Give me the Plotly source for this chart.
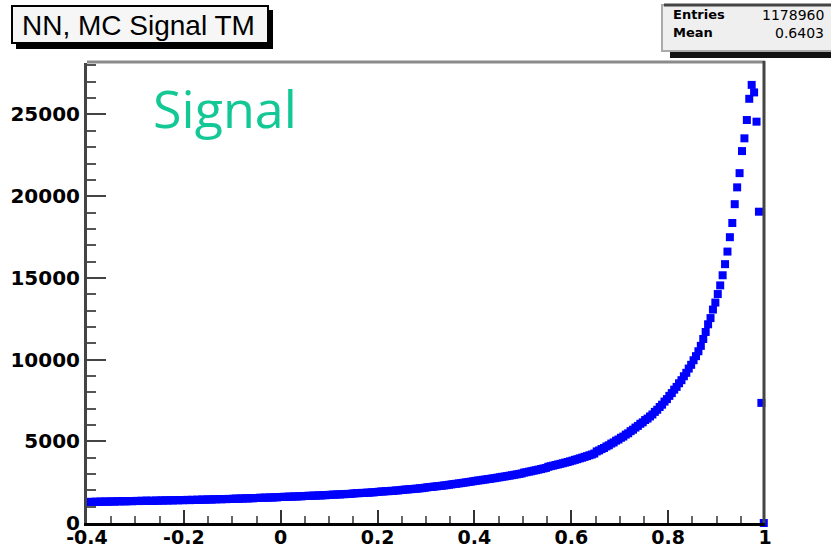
import plotly.graph_objects as go

# ---------------- data ----------------
bin_first_center = -0.3975
bin_width = 0.005

counts_low = [  # -0.40 .. 0.20
    1285, 1298, 1281, 1305, 1294, 1310, 1299, 1318, 1302, 1314,
    1322, 1309, 1331, 1325, 1340, 1318, 1336, 1344, 1329, 1348,
    1355, 1341, 1362, 1350, 1371, 1358, 1366, 1349, 1377, 1368,
    1380, 1371, 1389, 1376, 1394, 1383, 1399, 1388, 1405, 1392,
    1404, 1417, 1398, 1421, 1410, 1429, 1415, 1436, 1422, 1440,
    1445, 1431, 1456, 1449, 1462, 1451, 1470, 1458, 1477, 1468,
    1484, 1497, 1479, 1503, 1495, 1512, 1501, 1520, 1509, 1529,
    1533, 1548, 1539, 1556, 1547, 1565, 1558, 1574, 1566, 1589,
    1594, 1607, 1598, 1617, 1611, 1625, 1620, 1639, 1630, 1648,
    1655, 1668, 1661, 1679, 1672, 1690, 1685, 1701, 1697, 1716,
    1724, 1738, 1733, 1752, 1747, 1765, 1762, 1781, 1778, 1799,
    1812, 1828, 1824, 1843, 1839, 1858, 1856, 1876, 1874, 1897,
]
counts_mid = [  # 0.20 .. 0.65
    1911, 1929, 1927, 1948, 1946, 1968, 1967, 1990, 1991, 2015,
    2032, 2048, 2052, 2071, 2077, 2098, 2104, 2125, 2133, 2158,
    2182, 2201, 2212, 2231, 2245, 2264, 2279, 2300, 2316, 2338,
    2362, 2384, 2400, 2423, 2441, 2465, 2484, 2508, 2529, 2554,
    2578, 2602, 2617, 2644, 2660, 2687, 2703, 2730, 2748, 2776,
    2801, 2826, 2847, 2874, 2897, 2925, 2949, 2977, 3002, 3031,
    3083, 3110, 3142, 3170, 3205, 3234, 3268, 3300, 3337, 3370,
    3440, 3478, 3511, 3550, 3584, 3621, 3657, 3696, 3733, 3775,
    3817, 3866, 3905, 3955, 3996, 4048, 4092, 4145, 4192, 4250,
]
counts_rise = [  # 0.65 .. 0.87
    4380, 4440, 4525, 4590, 4685, 4755, 4860, 4930, 5040, 5110,
    5215, 5290, 5410, 5490, 5620, 5710, 5840, 5940, 6070, 6160,
    6300, 6390, 6520, 6640, 6800, 6930, 7100, 7240, 7430, 7580,
    7780, 7950, 8160, 8330, 8550, 8740, 8980, 9190, 9450, 9680,
    9960, 10210, 10510, 10840,
]
counts_peak = [  # 0.87 .. 1.00
    11260, 11690, 12160, 12540, 13060, 13490, 14010, 14540, 15160, 15840,
    16610, 17490, 18360, 19510, 20540, 21410, 22760, 23540, 24660, 25960,
    26810, 26350, 24560, 19050, 7350, 0,
]
counts = counts_low + counts_mid + counts_rise + counts_peak

x_tickvals = [-0.4, -0.2, 0, 0.2, 0.4, 0.6, 0.8, 1.0]
x_ticktext = ["-0.4", "-0.2", "0", "0.2", "0.4", "0.6", "0.8", "1"]
y_tickvals = [0, 5000, 10000, 15000, 20000, 25000]
y_ticktext = ["0", "5000", "10000", "15000", "20000", "25000"]

title_text = "NN, MC Signal TM"
stats_labels = ["Entries", "Mean"]
stats_values = ["1178960", "0.6403"]
label_text = "Signal"

# ---------------- layout helpers ----------------
W, H = 831, 551
L, R, T, B = 87, 765, 63, 523


def px(p):
    return (p - L) / (R - L)


def py(p):
    return (B - p) / (B - T)


fig = go.Figure()
fig.add_trace(go.Scatter(
    x0=bin_first_center, dx=bin_width, y=counts,
    mode="markers",
    marker=dict(symbol="square", size=8, color="#0000ff", line=dict(width=0)),
    cliponaxis=False, showlegend=False, hoverinfo="x+y",
))

shapes = []
# frame top / right
shapes.append(dict(type="line", xref="paper", yref="paper", x0=0, x1=1, y0=py(62), y1=py(62),
                   line=dict(color="#8a8a8a", width=3)))
shapes.append(dict(type="line", xref="paper", yref="paper", x0=px(764), x1=px(764), y0=0, y1=py(61),
                   line=dict(color="#444444", width=3)))
# title box with shadow
shapes.append(dict(type="rect", xref="paper", yref="paper", x0=px(16), x1=px(273), y0=py(49), y1=py(10),
                   fillcolor="black", line=dict(width=0)))
shapes.append(dict(type="rect", xref="paper", yref="paper", x0=px(12), x1=px(268), y0=py(43), y1=py(6),
                   fillcolor="#f6f6f6", line=dict(color="black", width=2)))
# stats box with shadow
shapes.append(dict(type="rect", xref="paper", yref="paper", x0=px(670), x1=px(835), y0=py(58), y1=py(52),
                   fillcolor="#111111", line=dict(width=0)))
shapes.append(dict(type="rect", xref="paper", yref="paper", x0=px(662), x1=px(835), y0=py(51), y1=py(5),
                   fillcolor="#efefef", line=dict(color="#aaaaaa", width=2)))
shapes.append(dict(type="line", xref="paper", yref="paper", x0=px(664), x1=px(835), y0=py(5), y1=py(5),
                   line=dict(color="#444444", width=3)))

annotations = [
    dict(text=title_text, xref="paper", yref="paper", x=px(138), y=py(25), xanchor="center", yanchor="middle",
         showarrow=False, font=dict(family="Liberation Sans", size=28, color="black")),
    dict(text=label_text, xref="paper", yref="paper", x=px(151), y=py(107), xanchor="left", yanchor="middle",
         showarrow=False, font=dict(family="Open Sans", size=52, color="#14c896")),
]
for i, (lab, val) in enumerate(zip(stats_labels, stats_values)):
    yy = py(15 + 18 * i)
    annotations.append(dict(text=lab, xref="paper", yref="paper", x=px(671), y=yy, xanchor="left",
                            yanchor="middle", showarrow=False,
                            font=dict(family="DejaVu Sans", size=13, color="black", weight="bold")))
    annotations.append(dict(text=val, xref="paper", yref="paper", x=px(826), y=yy, xanchor="right",
                            yanchor="middle", showarrow=False,
                            font=dict(family="DejaVu Sans", size=14, color="black")))

fig.update_layout(
    width=W, height=H,
    margin=dict(l=L, r=W - R, t=T, b=H - B, pad=0, autoexpand=False),
    paper_bgcolor="white", plot_bgcolor="white",
    shapes=shapes, annotations=annotations,
    showlegend=False,
    xaxis=dict(
        range=[-0.4, 1.0], tickvals=x_tickvals, ticktext=x_ticktext, automargin=False,
        ticks="inside", ticklen=13, tickwidth=2, tickcolor="#333333",
        minor=dict(dtick=0.05, tick0=-0.4, ticks="inside", ticklen=7, tickwidth=2, tickcolor="#666666",
                   showgrid=False),
        showgrid=False, zeroline=False, showline=True, linecolor="black", linewidth=3,
        tickfont=dict(family="DejaVu Sans", size=19, color="black", weight="bold"),
        ticklabelstandoff=-5,
    ),
    yaxis=dict(
        range=[0, 28150], tickvals=y_tickvals, ticktext=y_ticktext, automargin=False,
        ticks="inside", ticklen=19, tickwidth=2, tickcolor="#444444",
        minor=dict(dtick=1000, tick0=0, ticks="inside", ticklen=9, tickwidth=2, tickcolor="#555555",
                   showgrid=False),
        showgrid=False, zeroline=False, showline=True, linecolor="#444444", linewidth=3,
        tickfont=dict(family="DejaVu Sans", size=20, color="black", weight="bold"),
    ),
)

fig.write_html("out.html")
